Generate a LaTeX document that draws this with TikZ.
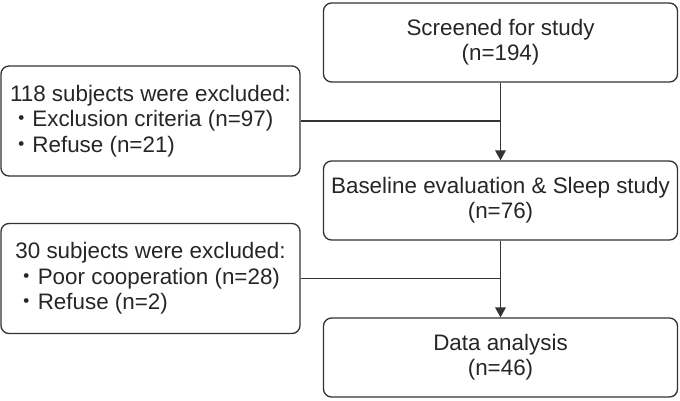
\documentclass[tikz,border=0pt]{standalone}
\usepackage{fontspec}
\setmainfont{Liberation Sans}
\newfontfamily\cjk{Noto Sans CJK JP}
\usetikzlibrary{arrows.meta}
\definecolor{ln}{HTML}{333333}
\definecolor{tx}{HTML}{262626}
\begin{document}
\begin{tikzpicture}[x=0.75pt,y=-0.75pt,
  box/.style={draw=ln,line width=1pt,rounded corners=6pt,inner sep=0pt,
    font=\fontsize{16.8pt}{19pt}\selectfont,text=tx},
  rbox/.style={box,minimum width=354*0.75pt,minimum height=79*0.75pt,align=center},
  lbox/.style={box,minimum width=299*0.75pt,minimum height=110*0.75pt,align=left},
  conn/.style={draw=ln,line width=1pt},
  arr/.style={conn,-{Triangle[width=8pt,length=7.5pt]}}]
\useasboundingbox (0,0) rectangle (680,400);
\newcommand{\bul}{{\cjk ・}}
\node[rbox] (a) at (500.5,42.5) {Screened for study\\(n=194)};
\node[rbox] (b) at (500.5,200.5) {Baseline evaluation \& Sleep study\\(n=76)};
\node[rbox] (c) at (500.5,357.5) {Data analysis\\(n=46)};
\node[lbox] (e1) at (150.5,121) {118 subjects were excluded:\\\bul Exclusion criteria (n=97)\\\bul Refuse (n=21)};
\node[lbox] (e2) at (150.5,278.5) {30 subjects were excluded:\\\bul Poor cooperation (n=28)\\\bul Refuse (n=2)};
\draw[arr] (a) -- (b);
\draw[arr] (b) -- (c);
\draw[conn] (e1.east) -- (e1.east -| a.south);
\draw[conn] (e2.east) -- (e2.east -| b.south);
\end{tikzpicture}
\end{document}
